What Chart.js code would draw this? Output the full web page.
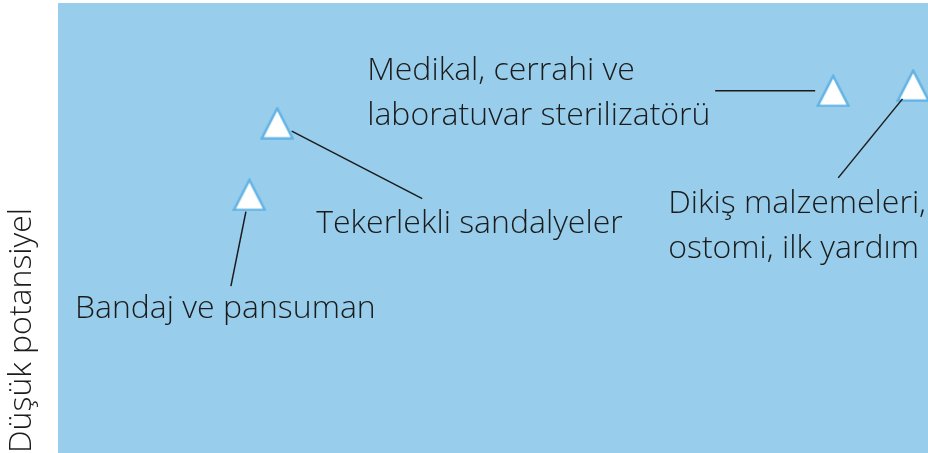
<!DOCTYPE html>
<html>
<head>
<meta charset="utf-8">
<script src="https://cdn.jsdelivr.net/npm/chart.js@4.4.1/dist/chart.umd.min.js"></script>
<style>
  html, body { margin: 0; padding: 0; background: #ffffff; }
  #wrap { width: 928px; height: 453px; }
</style>
</head>
<body>
<div id="wrap"><canvas id="c" width="928" height="453"></canvas></div>
<script>
// ---- data ----
const categories = [
  'Tekerlekli sandalyeler',
  'Bandaj ve pansuman',
  'Medikal, cerrahi ve laboratuvar sterilizatörü',
  'Dikiş malzemeleri, ostomi, ilk yardım'
];
const labelLines = [
  ['Tekerlekli sandalyeler'],
  ['Bandaj ve pansuman'],
  ['Medikal, cerrahi ve', 'laboratuvar sterilizatörü'],
  ['Dikiş malzemeleri,', 'ostomi, ilk yardım']
];
const xValues = [25.2, 22.0, 89.1, 98.3];
const yValues = [73.3, 57.4, 80.5, 81.7];
const yAxisTitle = 'Düşük potansiyel';

// ---- styling / layout ----
const FONT = '"Open Sans", "Noto Sans", sans-serif';
const BG = '#98ceec';
const TEXT = '#1b1b1b';

// offsets (pixels, relative to point centre) for label text and leader lines
const labelLayout = [
  { tx: 39, ty: 110, line: [14.5, 8, 145, 75.5] },
  { tx: -174.5, ty: 123, line: [-3.5, 17, -18.5, 91.5] },
  { tx: -466, ty: -11, line: [-18, 0, -118, 0] },
  { tx: -245, ty: 128, line: [-10.7, 13.5, -75, 92.5] }
];

function makeTriangle() {
  const c = document.createElement('canvas');
  const W = 34, H = 33;
  c.width = W; c.height = H;
  const g = c.getContext('2d');
  g.beginPath();
  g.moveTo(W / 2, 1.6);
  g.lineTo(1.6, H - 1.4);
  g.lineTo(W - 1.6, H - 1.4);
  g.closePath();
  g.fillStyle = '#ffffff';
  g.fill();
  g.lineWidth = 2.4;
  g.lineJoin = 'miter';
  g.strokeStyle = '#62b3e4';
  g.stroke();
  return c;
}

const bgPlugin = {
  id: 'bg',
  beforeDatasetsDraw(chart) {
    const { ctx, chartArea: a } = chart;
    ctx.save();
    ctx.fillStyle = BG;
    ctx.fillRect(a.left, a.top, a.right - a.left, a.bottom - a.top);
    ctx.restore();
  }
};

const labelPlugin = {
  id: 'labels',
  afterDatasetsDraw(chart) {
    const { ctx } = chart;
    const meta = chart.getDatasetMeta(0);
    ctx.save();
    meta.data.forEach((pt, i) => {
      const L = labelLayout[i];
      const px = pt.x, py = pt.y;
      ctx.strokeStyle = TEXT;
      ctx.lineWidth = 1.5;
      ctx.beginPath();
      ctx.moveTo(px + L.line[0], py + L.line[1]);
      ctx.lineTo(px + L.line[2], py + L.line[3]);
      ctx.stroke();
      ctx.fillStyle = TEXT;
      ctx.font = '300 32px ' + FONT;
      ctx.textAlign = 'left';
      ctx.textBaseline = 'alphabetic';
      labelLines[i].forEach((t, j) => {
        ctx.fillText(t, px + L.tx, py + L.ty + j * 45);
      });
    });
    ctx.restore();
  }
};

const tri = makeTriangle();

new Chart(document.getElementById('c'), {
  type: 'scatter',
  data: {
    labels: categories,
    datasets: [{
      data: xValues.map((x, i) => ({ x: x, y: yValues[i] })),
      pointStyle: tri,
      pointRadius: 17,
      pointHoverRadius: 17
    }]
  },
  options: {
    responsive: false,
    animation: false,
    layout: { autoPadding: false, padding: { top: 3, right: 0, bottom: 0, left: 0 } },
    plugins: { legend: { display: false }, tooltip: { enabled: false } },
    scales: {
      x: { type: 'linear', min: 0, max: 100, display: false },
      y: {
        type: 'linear', min: 0, max: 100,
        display: true,
        grid: { display: false, drawTicks: false },
        border: { display: false },
        ticks: { display: false },
        title: {
          display: true,
          text: yAxisTitle,
          align: 'start',
          color: TEXT,
          font: { family: FONT, size: 32, weight: '300', lineHeight: 1.2 },
          padding: { top: 3, bottom: 16.6 }
        }
      }
    }
  },
  plugins: [bgPlugin, labelPlugin]
});
</script>
</body>
</html>
